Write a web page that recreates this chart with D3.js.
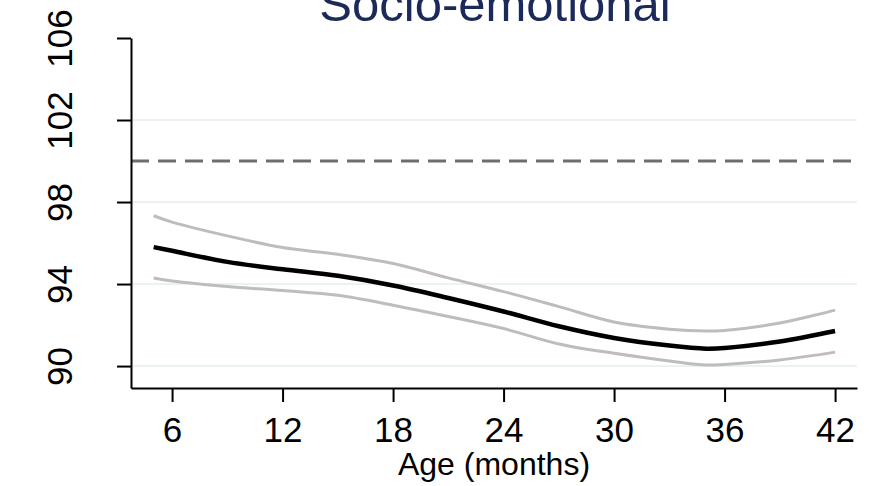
<!DOCTYPE html>
<html>
<head>
<meta charset="utf-8">
<script src="https://cdn.jsdelivr.net/npm/d3@7"></script>
<style>
  html, body { margin: 0; padding: 0; background: #fff; }
  svg { display: block; font-family: "Liberation Sans", Arial, Helvetica, sans-serif; }
</style>
</head>
<body>
<svg id="chart" width="869" height="486"></svg>
<script>
// Age in months and the fitted score with its confidence band
const ages  = [5, 6, 9, 12, 15, 18, 21, 24, 27, 30, 33, 35, 36, 39, 42];
const mean  = [95.80, 95.62, 95.08, 94.72, 94.40, 93.93, 93.32, 92.66, 91.94, 91.37, 91.00, 90.85, 90.88, 91.20, 91.71];
const upper = [97.33, 97.02, 96.35, 95.78, 95.45, 95.00, 94.30, 93.63, 92.90, 92.15, 91.80, 91.71, 91.74, 92.10, 92.73];
const lower = [94.29, 94.15, 93.88, 93.68, 93.45, 92.97, 92.42, 91.83, 91.08, 90.62, 90.25, 90.05, 90.08, 90.30, 90.68];

const xTicks = [6, 12, 18, 24, 30, 36, 42];
const yTicks = [90, 94, 98, 102, 106];
const gridValues = [90, 94, 98, 102];
const referenceLine = 100;

const svg = d3.select("#chart");

// Scales cover the whole plot region, slightly beyond the tick range
const x = d3.scaleLinear().domain([3.77, 43.19]).range([131, 857]);
const y = d3.scaleLinear().domain([88.93, 106]).range([388, 38]);

// Horizontal gridlines
svg.append("g").selectAll("line").data(gridValues).join("line")
  .attr("x1", x.range()[0]).attr("x2", x.range()[1])
  .attr("y1", d => y(d)).attr("y2", d => y(d))
  .attr("stroke", "#eaf2f3").attr("stroke-width", 2);

// Reference line at the norm mean
svg.append("line")
  .attr("x1", x.range()[0]).attr("x2", x.range()[1])
  .attr("y1", y(referenceLine)).attr("y2", y(referenceLine))
  .attr("stroke", "#6e6e6e").attr("stroke-width", 3)
  .attr("stroke-dasharray", "18,9");

const line = vals => d3.line()
  .x((d, i) => x(ages[i]))
  .y(d => y(d))
  .curve(d3.curveCatmullRom.alpha(0.5))(vals);

// Confidence band bounds
[upper, lower].forEach(vals => {
  svg.append("path").attr("d", line(vals))
    .attr("fill", "none").attr("stroke", "#bdbdbd").attr("stroke-width", 3);
});

// Fitted mean
svg.append("path").attr("d", line(mean))
  .attr("fill", "none").attr("stroke", "#000").attr("stroke-width", 4.5);

// Axes
const xAxis = svg.append("g").attr("transform", `translate(0,${y.range()[0]})`)
  .call(d3.axisBottom(x).tickValues(xTicks).tickSize(14).tickSizeOuter(0).tickPadding(15));
const yAxis = svg.append("g").attr("transform", `translate(${x.range()[0]},0)`)
  .call(d3.axisLeft(y).tickValues(yTicks).tickSize(14).tickSizeOuter(0));

[xAxis, yAxis].forEach(g => {
  g.select(".domain").attr("stroke", "#000").attr("stroke-width", 2);
  g.selectAll(".tick line").attr("stroke", "#000").attr("stroke-width", 2);
  g.selectAll("text").attr("fill", "#000").attr("font-size", 35)
    .attr("font-family", "'Liberation Sans', Arial, sans-serif");
});

xAxis.selectAll("text").attr("dy", "0.71em");

// Rotated y tick labels
yAxis.selectAll(".tick text")
  .attr("x", null).attr("dy", null)
  .attr("text-anchor", "middle")
  .attr("transform", "translate(-59,0) rotate(-90)");

// Axis title
svg.append("text")
  .attr("x", (x.range()[0] + x.range()[1]) / 2).attr("y", 475)
  .attr("text-anchor", "middle").attr("font-size", 32).attr("fill", "#000")
  .text("Age (months)");

// Chart title
svg.append("text")
  .attr("x", 495).attr("y", 21)
  .attr("text-anchor", "middle").attr("font-size", 49).attr("fill", "#1c2a5a")
  .text("Socio-emotional");
</script>
</body>
</html>
